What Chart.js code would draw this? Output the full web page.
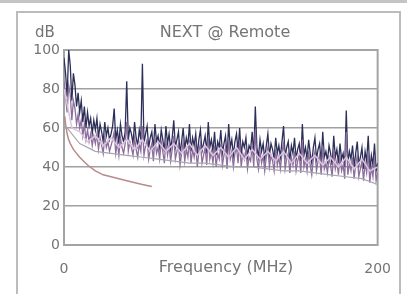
<!DOCTYPE html>
<html><head><meta charset="utf-8">
<script src="https://cdn.jsdelivr.net/npm/chart.js@4"></script>
<style>
html,body{margin:0;padding:0;background:#fff;}
#wrap{position:relative;width:407px;height:294px;overflow:hidden;filter:blur(0.5px);}
#topline{position:absolute;left:0;top:0;width:407px;height:3px;background:#c4c4c4;}
#panel{position:absolute;left:16px;top:11px;width:385px;height:290px;border:2px solid #bcbcbc;box-sizing:border-box;border-bottom:none;}
canvas{position:absolute;left:0;top:0;}
</style></head>
<body><div id="wrap"><div id="topline"></div><canvas id="c" width="407" height="294"></canvas><div id="panel"></div></div>
<script>
const title = "NEXT @ Remote";
const yUnit = "dB";
const xTitle = "Frequency (MHz)";
const yTicks = [0, 20, 40, 60, 80, 100];
const xTicks = [0, 200];
// 1 MHz steps, 0..200 MHz
const pairA = [
96,88,76,100,92,74,88,82,71,78,
68,74,63,71,60,68,61,65,57,64,
59,65,55,62,58,53,63,56,60,54,
57,61,70,54,59,52,62,56,53,58,
84,54,60,57,52,63,55,51,59,54,
93,52,57,61,50,55,58,49,62,53,
56,50,59,54,48,61,52,57,49,55,
64,50,54,58,47,53,60,49,55,51,
62,48,55,51,57,46,54,59,48,52,
56,47,63,50,54,48,58,46,53,50,
59,47,52,56,45,62,50,54,46,53,
57,48,60,46,53,50,55,45,51,49,
58,46,71,50,45,54,48,52,44,51,
57,46,52,49,44,55,47,51,45,53,
61,45,50,53,43,51,47,55,44,49,
52,43,62,46,50,44,54,47,42,50,
55,44,49,52,42,58,45,48,43,51,
47,41,56,45,49,42,52,44,47,40,
69,42,48,44,51,40,47,53,41,45,
50,39,48,43,56,38,46,41,52,38,
42];
const pairB = [
84,76,68,82,77,64,74,70,62,67,
60,64,56,62,54,59,53,57,51,56,
52,57,49,55,51,47,56,50,53,48,
51,54,58,47,53,46,55,50,47,52,
63,48,53,50,46,55,49,45,52,48,
61,46,51,54,44,49,52,43,55,47,
50,44,53,48,42,54,46,51,43,49,
56,44,48,52,41,47,53,43,49,45,
54,42,49,45,51,40,48,52,42,46,
50,41,55,44,48,42,51,40,47,44,
52,41,46,50,39,54,44,48,40,47,
50,42,53,40,47,44,49,39,45,43,
51,40,59,44,39,48,42,46,38,45,
50,40,46,43,38,49,41,45,39,47,
53,39,44,47,37,45,41,48,38,43,
46,37,54,40,44,38,48,41,36,44,
48,38,43,46,36,51,39,42,37,45,
41,35,49,39,43,36,46,38,41,34,
58,36,42,38,45,34,41,46,35,39,
43,33,42,37,48,32,40,35,45,33,
37];
const freq5 = [0,5,10,15,20,25,30,35,40,45,50,55,60,65,70,75,80,85,90,95,100,105,110,115,120,125,130,135,140,145,150,155,160,165,170,175,180,185,190,195,200];
const pairD = [80,60,58,53,56,51,55,50,54,49,54,48,53,48,52,47,52,46,51,46,50,45,50,44,49,44,48,43,48,42,47,42,46,41,45,40,45,39,44,38,40];
const freqLow = [0,10,20,30,40,50,60,70,80,90,100,110,120,130,140,150,160,170,180,190,200];
const pairC = [62,52,48,47,46,45,44,43,42,42,41,40,40,39,38,38,37,36,35,34,31];
const freqLimit = [0.5,1,2,3,4,6,8,10,15,20,25,30,40,50,56];
const limit = [66,62,57,54,52,49,47,45,41,38,36,35,33,31,30];

const freq = pairA.map((_, i) => i);
const toXY = (xs, ys) => xs.map((x, i) => ({x, y: ys[i]}));
const txtColor = "#747474";
const fam = "'DejaVu Sans', Verdana, sans-serif";
const font = {family: fam, size: 14};

const deco = {
  id: 'deco',
  beforeDatasetsDraw(chart) {
    const {ctx, chartArea: a} = chart;
    ctx.save();
    ctx.strokeStyle = '#a4a4a4'; ctx.lineWidth = 2;
    ctx.strokeRect(a.left, a.top, a.right - a.left, a.bottom - a.top);
    ctx.restore();
  },
  afterDraw(chart) {
    const {ctx} = chart;
    ctx.save();
    ctx.fillStyle = txtColor;
    ctx.textAlign = 'center'; ctx.textBaseline = 'middle';
    ctx.font = "16px " + fam;
    ctx.fillText(title, 225, 33);
    ctx.font = "15px " + fam;
    ctx.fillText(yUnit, 45, 33);
    ctx.font = "16px " + fam;
    ctx.fillText(xTitle, 226, 268);
    ctx.restore();
  }
};

new Chart(document.getElementById('c'), {
  type: 'line',
  data: {
    datasets: [
      {data: toXY(freqLow, pairC), borderColor: '#a6a6b0', borderWidth: 1.2},
      {data: toXY(freqLimit, limit), borderColor: '#b88a88', borderWidth: 1.5},
      {data: toXY(freq5, pairD), borderColor: '#dcc4e0', borderWidth: 1.5},
      {data: toXY(freq, pairB), borderColor: '#8c6f9c', borderWidth: 1.3},
      {data: toXY(freq, pairA), borderColor: '#2c2f58', borderWidth: 1.3}
    ]
  },
  options: {
    responsive: false,
    animation: false,
    events: [],
    layout: {padding: {left: 0, top: 50, right: 19, bottom: 0}},
    elements: {point: {radius: 0}, line: {tension: 0}},
    plugins: {legend: {display: false}, tooltip: {enabled: false}, title: {display: false}},
    scales: {
      x: {
        type: 'linear', min: 0, max: 200,
        afterFit(s) { s.height = 49; },
        afterBuildTicks(s) { s.ticks = xTicks.map(v => ({value: v})); },
        grid: {display: false, drawTicks: false},
        border: {display: false},
        ticks: {color: txtColor, font, padding: 16, maxRotation: 0, autoSkip: false}
      },
      y: {
        min: 0, max: 100,
        afterFit(s) { s.width = 64; },
        afterBuildTicks(s) { s.ticks = yTicks.map(v => ({value: v})); },
        grid: {color: '#a0a0a0', lineWidth: 1.5, drawTicks: false},
        border: {display: false},
        ticks: {color: txtColor, font, padding: 4}
      }
    }
  },
  plugins: [deco]
});
</script></body></html>
